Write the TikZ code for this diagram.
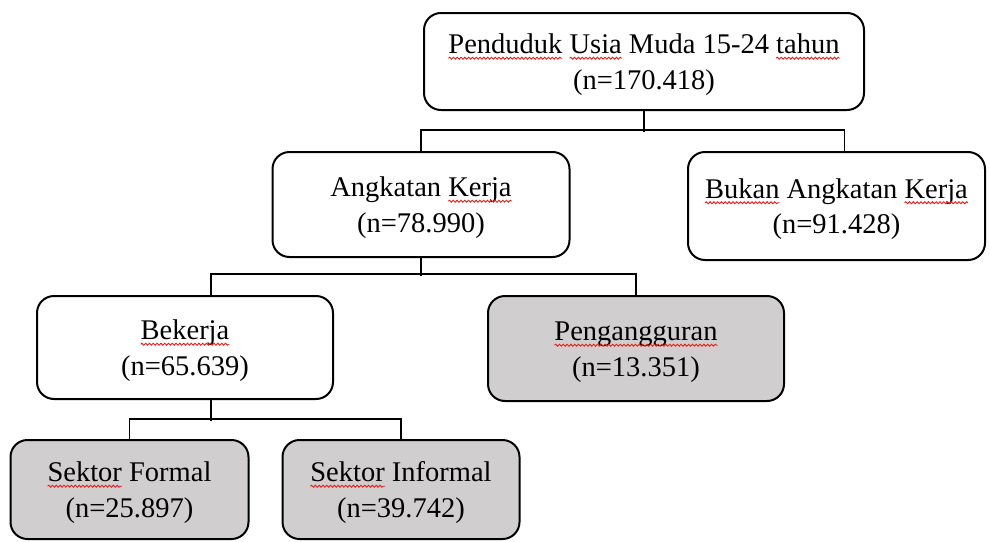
\documentclass[tikz,border=0pt]{standalone}
\usepackage{fontspec}
\setmainfont{Liberation Serif}
\usetikzlibrary{calc, decorations.pathmorphing}
\definecolor{boxgray}{RGB}{208,206,206}
\definecolor{spellred}{RGB}{230,30,30}
% red wavy underline, as left by a spell checker
\newcommand{\spell}[1]{\tikz[baseline=(word.base), x=1cm, y=1cm, sharp corners]{%
  \node[shape=rectangle, draw=none, fill=none, inner sep=0pt, outer sep=0pt,
    minimum width=0pt, minimum height=0pt, text width=, align=left] (word) {#1};
  \draw[overlay, spellred, line width=0.9pt, decorate,
    decoration={snake, amplitude=1pt, segment length=3.8pt}]
    ($(word.base west)+(0,-4.5pt)$) -- ($(word.base east)+(0,-4.5pt)$);}}

\begin{document}
\begin{tikzpicture}[x=1pt,y=-1pt,
    box/.style={draw, line width=2pt, rounded corners=17pt, align=center,
      inner sep=0pt, font=\fontsize{28.5}{35.5}\selectfont,
      execute at begin node=\rule{0pt}{26pt}},
    shaded/.style={box, fill=boxgray},
    link/.style={line width=1.5pt}]
  \useasboundingbox (0,0) rectangle (990,541);
  % level 1
  \node[box, minimum width=440pt, minimum height=97pt] (usia) at (644,61.5)
    {\spell{Penduduk} \spell{Usia} Muda 15-24 \spell{tahun}\\(n=170.418)};
  % level 2
  \node[box, minimum width=297pt, minimum height=105pt] (ak) at (421,204.5)
    {Angkatan \spell{Kerja}\\(n=78.990)};
  \node[box, minimum width=297pt, minimum height=108pt] (bak) at (836.5,206)
    {\spell{Bukan} Angkatan \spell{Kerja}\\(n=91.428)};
  % level 3
  \node[box, minimum width=296pt, minimum height=103pt] (bek) at (185,347.5)
    {\spell{Bekerja}\\(n=65.639)};
  \node[shaded, minimum width=296pt, minimum height=105pt] (peng) at (636,348.5)
    {\spell{Pengangguran}\\(n=13.351)};
  % level 4
  \node[shaded, minimum width=238pt, minimum height=99pt] (sf) at (129.5,489.5)
    {\spell{Sektor} Formal\\(n=25.897)};
  \node[shaded, minimum width=237pt, minimum height=99pt] (si) at (401,489.5)
    {\spell{Sektor} Informal\\(n=39.742)};
  % connectors
  \coordinate (bakin) at ($(bak.north)+(8,0)$);
  \coordinate (bekin) at ($(bek.north)+(26,0)$);
  \coordinate (bekout) at ($(bek.south)+(26,0)$);
  \draw[link] (usia.south) -- ++(0,21);
  \draw[link] (ak.north) -- ++(0,-21) -| (bakin);
  \draw[link] (ak.south) -- ++(0,18);
  \draw[link] (bekin) -- ++(0,-21) -| (peng.north);
  \draw[link] (bekout) -- ++(0,21);
  \draw[link] (sf.north) -- ++(0,-20) -| (si.north);
\end{tikzpicture}
\end{document}
